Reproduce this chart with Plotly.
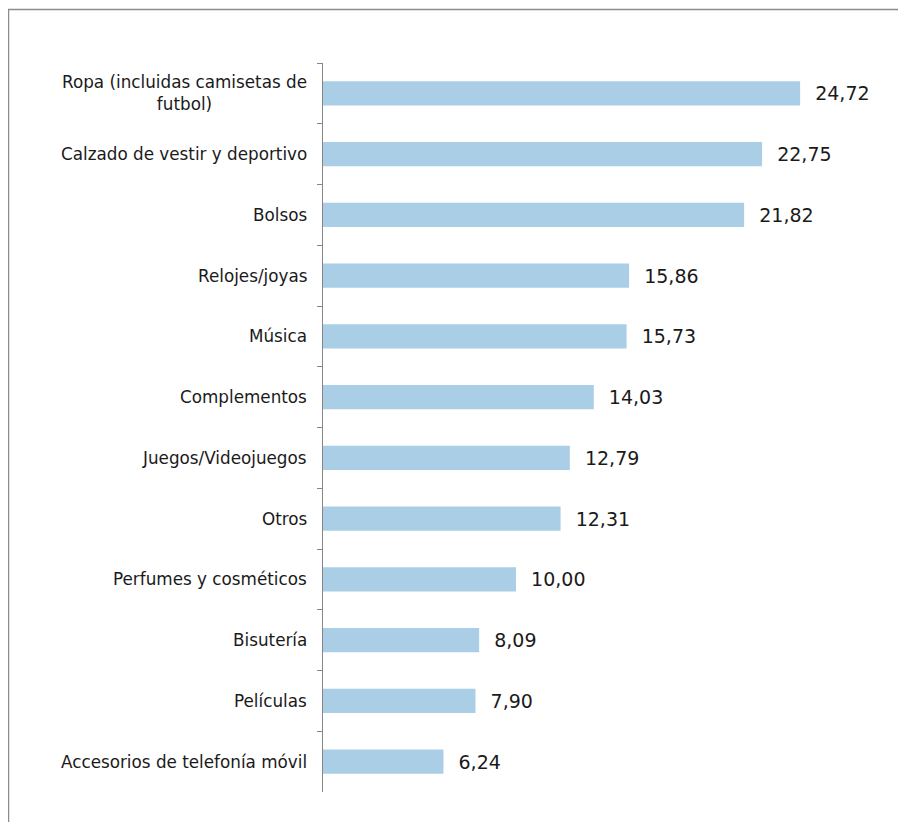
import plotly.graph_objects as go

categories = [
    "Ropa (incluidas camisetas de<br>futbol)",
    "Calzado de vestir y deportivo",
    "Bolsos",
    "Relojes/joyas",
    "Música",
    "Complementos",
    "Juegos/Videojuegos",
    "Otros",
    "Perfumes y cosméticos",
    "Bisutería",
    "Películas",
    "Accesorios de telefonía móvil",
]
values = [24.72, 22.75, 21.82, 15.86, 15.73, 14.03, 12.79, 12.31, 10.00, 8.09, 7.90, 6.24]

OFF = 8  # default page body margin
W, H = 906 - OFF, 822 - OFF
L, R, T, B = 323 - OFF, 16, 63 - OFF, 30
pw = W - L - R
ph = H - T - B
FONT = "DejaVu Sans"

fig = go.Figure()
fig.add_trace(go.Bar(
    y=categories, x=values, orientation="h",
    marker=dict(color="#A9CEE5", line=dict(width=0)),
    width=0.40,
    texttemplate="\u00a0\u00a0%{x:.2f}", textposition="outside",
    textfont=dict(size=19, color="#1a1a1a", family=FONT),
    cliponaxis=False,
))

for c in categories:
    fig.add_annotation(
        x=0, y=c, xref="x", yref="y", text=c, showarrow=False,
        xanchor="right", align="center", xshift=-14,
        font=dict(size=16.8, color="#1a1a1a", family=FONT),
    )

# outer frame
fig.add_shape(type="rect", xref="paper", yref="paper",
              x0=(8.5 - OFF - L) / pw, x1=1.2, y0=-0.2, y1=1 + (T - (9.5 - OFF)) / ph,
              line=dict(color="#8c8c8c", width=1.5), fillcolor="rgba(0,0,0,0)", layer="below")

fig.update_layout(
    width=W, height=H,
    margin=dict(l=L, r=R, t=T, b=B),
    plot_bgcolor="white", paper_bgcolor="white",
    separators=",.",
    showlegend=False,
    font=dict(family=FONT, color="#1a1a1a"),
)
fig.update_xaxes(range=[0, pw / 19.3], visible=False, showgrid=False, zeroline=False)
fig.update_yaxes(
    autorange="reversed", type="category",
    showticklabels=False, showgrid=False, zeroline=False,
    showline=True, linecolor="#868686", linewidth=1.3,
    ticks="outside", tickson="boundaries", ticklen=5, tickcolor="#868686", tickwidth=1.3,
)

fig.write_html("out.html")
